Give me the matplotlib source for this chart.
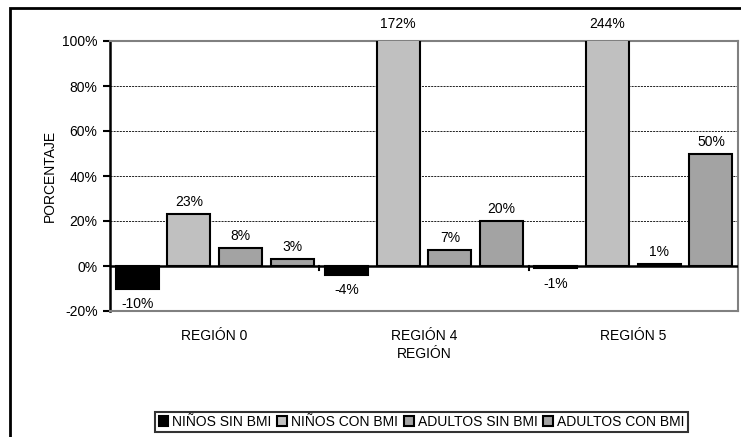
import numpy as np
import matplotlib
matplotlib.use('Agg')
from matplotlib import pyplot as plt
from matplotlib.patches import Rectangle

regiones = ['REGIÓN 0', 'REGIÓN 4', 'REGIÓN 5']
series = ['NIÑOS SIN BMI', 'NIÑOS CON BMI', 'ADULTOS SIN BMI', 'ADULTOS CON BMI']
ninos_sin = [-10, -4, -1]
ninos_con = [23, 172, 244]
adultos_sin = [8, 7, 1]
adultos_con = [3, 20, 50]
colores = ['#000000', '#C0C0C0', '#A3A3A3', '#A3A3A3']

plt.rcParams['font.family'] = ['Liberation Sans', 'DejaVu Sans']
plt.rcParams['font.size'] = 10

fig = plt.figure(figsize=(7.41, 4.37), dpi=100)
ax = fig.add_axes([110 / 741, 1 - 311 / 437, 628 / 741, 270 / 437])

ymin, ymax = -20, 100
x = np.arange(len(regiones))
paso = 0.247
ancho = 0.206
valores = [ninos_sin, ninos_con, adultos_sin, adultos_con]
for i, (nombre, vals) in enumerate(zip(series, valores)):
    pos = x + (i - 1.5) * paso
    ax.bar(pos, vals, width=ancho, color=colores[i], edgecolor='black',
           linewidth=1.5, label=nombre, zorder=3)
    for px, v in zip(pos, vals):
        if v > ymax:
            ax.annotate(f'{v}%', (px, ymax), xytext=(0, 12.5), textcoords='offset points',
                        ha='center', va='center', annotation_clip=False)
        elif v >= 0:
            ax.annotate(f'{v}%', (px, v), xytext=(0, 8.6), textcoords='offset points',
                        ha='center', va='center')
        else:
            ax.annotate(f'{v}%', (px, v), xytext=(0, -11), textcoords='offset points',
                        ha='center', va='center')

ax.set_xlim(-0.5, len(regiones) - 0.5)
ax.set_ylim(ymin, ymax)
ax.set_yticks(np.arange(-20, 101, 20))
ax.set_yticklabels([f'{t}%' for t in range(-20, 101, 20)])
ax.set_xticks(x)
ax.set_xticklabels(regiones)
ax.tick_params(axis='x', length=0, pad=13)
ax.tick_params(axis='y', length=5, width=1.5, direction='out', pad=4)

for y in [20, 40, 60, 80]:
    ax.axhline(y, color='black', linestyle=(0, (2.5, 1.2)), linewidth=0.6, zorder=1)
ax.axhline(0, color='black', linewidth=1.8, zorder=4)
for b in np.arange(0.5, len(regiones) - 0.5, 1):
    ax.plot([b, b], [0, -1.8], color='black', linewidth=1.5, zorder=4, clip_on=False)

for lado in ['top', 'right', 'bottom']:
    ax.spines[lado].set_color('#808080')
    ax.spines[lado].set_linewidth(1.5)
ax.spines['left'].set_color('black')
ax.spines['left'].set_linewidth(1.8)

ax.set_ylabel('PORCENTAJE', labelpad=4)
ax.set_xlabel('REGIÓN', labelpad=3)

fig.patches.append(Rectangle((10 / 741, -0.1), 1.2, 1 - 8 / 437 + 0.1,
                             transform=fig.transFigure, fill=False,
                             edgecolor='black', linewidth=2))

leg = fig.legend(loc='center', bbox_to_anchor=(421.5 / 741, 1 - 422 / 437), ncol=4,
                 frameon=True, fancybox=False, handlelength=0.7, handleheight=0.7,
                 handletextpad=0.3, columnspacing=0.4, borderpad=0.25, borderaxespad=0)
leg.get_frame().set_edgecolor('black')
leg.get_frame().set_linewidth(1.5)

fig.savefig('out.png', dpi=100)
